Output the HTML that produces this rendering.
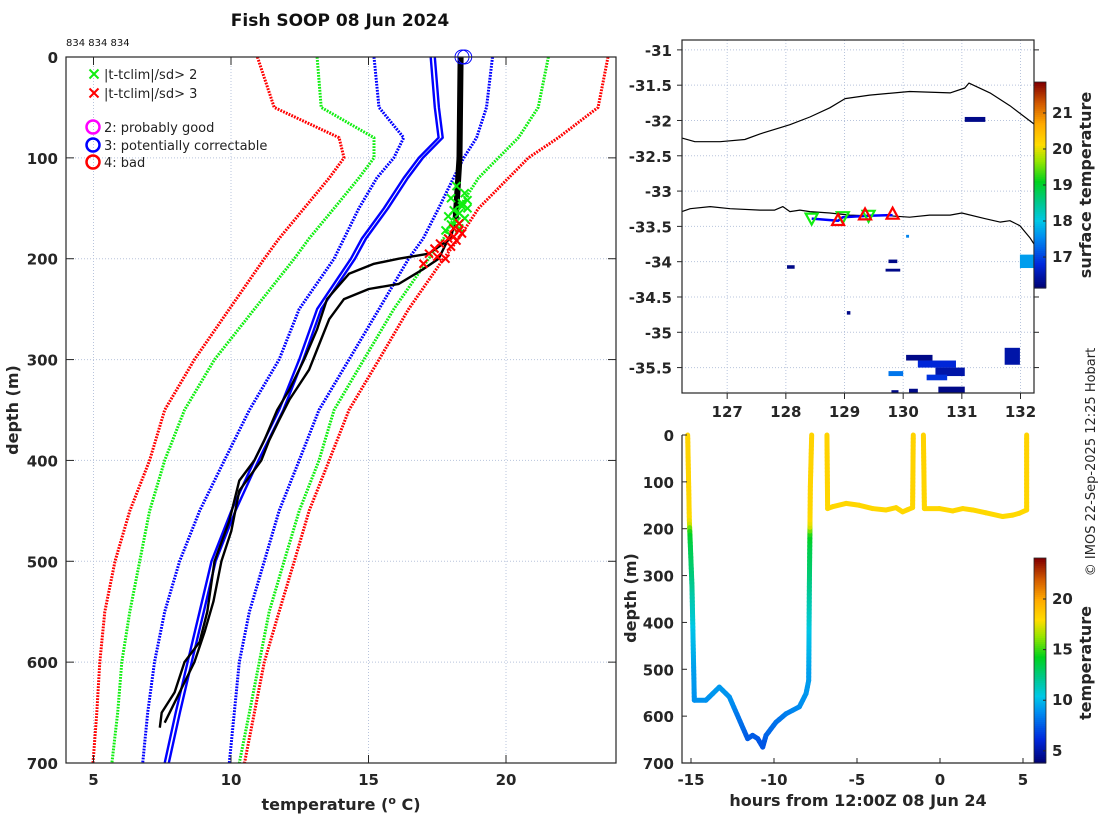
<!DOCTYPE html>
<html><head><meta charset="utf-8"><style>
html,body{margin:0;padding:0;background:#fff;}
svg{display:block;font-family:"DejaVu Sans","Liberation Sans",sans-serif;}
.tk{font-size:15px;font-weight:bold;fill:#262626;}
.lb{font-size:16px;font-weight:bold;fill:#262626;}
</style></head><body>
<svg id="fig" width="1100" height="820" viewBox="0 0 1100 820" xmlns="http://www.w3.org/2000/svg">
<rect width="1100" height="820" fill="#fff"/>
<text x="340" y="26" text-anchor="middle" style="font-size:17px;font-weight:bold;fill:#111">Fish SOOP 08 Jun 2024</text>
<text x="66" y="46" style="font-size:10px;fill:#111">834 834 834</text>
<text transform="translate(1095,462) rotate(-90)" text-anchor="middle" style="font-size:13px;fill:#262626">© IMOS 22-Sep-2025 12:25 Hobart</text>
<g id="left"></g>
<g id="map"></g>
<g id="tser"></g>
</svg>
<script>
// ---------- data: profile panel ----------
const climDepths=[0,50,80,100,120,150,180,200,250,300,350,400,450,500,550,600,650,700];
const climMean=[17.26,17.41,17.55,16.83,16.28,15.56,14.76,14.36,13.13,12.48,11.75,10.85,10.01,9.29,8.86,8.42,7.99,7.59];
const climMinus1=[15.2,15.38,16.28,15.92,15.3,14.65,14.11,13.75,12.48,11.75,10.67,9.76,8.86,8.13,7.59,7.22,6.97,6.79];
const climPlus1=[19.51,19.29,18.93,18.46,18.09,17.55,16.99,16.46,15.38,14.29,13.2,12.48,11.75,11.21,10.67,10.3,10.12,9.94];
const climMinus2=[13.13,13.28,15.2,15.2,14.65,13.75,12.84,12.3,10.85,9.4,8.31,7.59,7.04,6.68,6.32,6.03,5.88,5.67];
const climPlus2=[21.54,21.17,20.45,19.72,19.0,18.28,17.73,17.19,15.92,14.83,13.75,13.2,12.48,11.93,11.39,11.03,10.67,10.3];
const climMinus3=[10.96,11.57,13.93,14.11,13.57,12.66,11.75,11.21,9.94,8.67,7.59,7.04,6.32,5.78,5.41,5.23,5.12,4.98];
const climPlus3=[23.71,23.35,21.9,20.81,20.09,19.0,18.28,17.73,16.46,15.38,14.29,13.57,12.84,12.3,11.75,11.21,10.85,10.49];
const profADepth=[0,100,130,160,180,195,200,205,215,240,270,300,330,350,380,400,420,460,500,550,580,600,630,650,665];
const profATemp=[18.35,18.31,18.24,18.17,17.99,17.19,16.10,15.20,14.29,13.49,13.13,12.66,12.12,11.68,11.21,10.85,10.30,9.94,9.40,9.14,8.86,8.31,7.95,7.48,7.41];
const profBDepth=[0,100,140,170,190,200,210,225,230,240,260,290,310,340,360,380,400,430,470,500,540,570,600,630,660];
const profBTemp=[18.38,18.35,18.28,18.09,17.73,17.55,17.01,16.10,15.01,14.11,13.57,13.13,12.84,12.12,11.75,11.39,11.10,10.30,10.01,9.65,9.36,9.04,8.67,8.13,7.59];
const flag2Temp=[18.2,18.5,18.0,18.4,18.6,18.1,18.3,17.9,18.5,18.2,18.4,18.0,18.3,17.8,18.6];
const flag2Depth=[128,135,140,145,150,152,155,158,160,163,148,166,170,172,142];
const flag3Temp=[18.3,18.1,18.4,17.9,18.2,17.6,18.0,17.4,17.2,17.8,18.3,17.0,18.1,17.5];
const flag3Depth=[165,170,175,180,182,185,188,190,195,200,172,205,178,198];
const qcCircleTemp=[18.4,18.5];
const qcCircleDepth=[0,0];
// ---------- data: map ----------
const coastNLon=[126.23,126.45,126.88,127.30,127.56,128.07,128.41,128.75,129.01,129.43,130.11,130.80,131.05,131.12,131.48,131.82,132.23];
const coastNLat=[-32.25,-32.30,-32.30,-32.27,-32.19,-32.06,-31.95,-31.82,-31.69,-31.64,-31.59,-31.61,-31.54,-31.47,-31.61,-31.79,-32.05];
const coastSLon=[126.23,126.37,126.71,127.05,127.56,127.81,127.95,128.07,128.24,128.41,128.75,129.09,129.43,129.77,130.11,130.45,130.80,131.00,131.39,131.65,131.82,131.99,132.16,132.23];
const coastSLat=[-33.29,-33.25,-33.22,-33.25,-33.27,-33.27,-33.22,-33.29,-33.27,-33.29,-33.31,-33.34,-33.35,-33.35,-33.37,-33.34,-33.34,-33.31,-33.39,-33.44,-33.42,-33.49,-33.66,-33.75];
const trackLon=[128.44,128.89,128.97,129.41,129.82];
const trackLat=[-33.39,-33.42,-33.37,-33.35,-33.34];
const tri2Lon=[128.44,128.97,129.41];
const tri2Lat=[-33.39,-33.37,-33.35];
const tri3Lon=[128.89,129.35,129.82];
const tri3Lat=[-33.41,-33.33,-33.32];
const sstLon0=[131.05,128.02,129.70,129.75,129.04,130.05,130.25,130.55,130.40,131.73,130.60,130.10,129.80,131.99,129.75,130.05];
const sstLat0=[-31.95,-34.05,-34.10,-33.97,-34.70,-35.32,-35.40,-35.50,-35.60,-35.22,-35.77,-35.80,-35.82,-33.90,-35.55,-33.62];
const sstLon1=[131.40,128.15,129.95,129.90,129.10,130.50,130.90,131.05,130.75,131.99,131.05,130.25,129.92,132.23,130.00,130.10];
const sstLat1=[-32.02,-34.10,-34.14,-34.02,-34.75,-35.40,-35.50,-35.62,-35.68,-35.46,-35.86,-35.86,-35.86,-34.09,-35.62,-33.66];
const sstTemp=[16.3,16.3,16.3,16.3,16.3,16.3,16.8,16.5,16.9,16.5,16.3,16.3,16.3,17.7,17.4,17.5];
// ---------- data: depth-time ----------
const seg1Hour=[-15.2,-15.1,-14.94,-14.8,-14.1,-13.29,-12.69,-11.59,-11.29,-10.98,-10.68,-10.48,-9.88,-9.28,-8.47,-8.07,-7.91,-7.87,-7.81,-7.73];
const seg1Depth=[0,182,324,566,566,538,559,648,641,648,666,641,613,595,580,552,524,324,110,0];
const seg2Hour=[-6.81,-6.77,-6.47,-5.66,-4.86,-4.06,-3.25,-2.65,-2.25,-1.65,-1.61];
const seg2Depth=[0,157,153,146,150,157,160,155,164,155,0];
const seg3Hour=[-1.0,-0.94,-0.04,0.76,1.37,1.97,2.77,3.78,4.38,4.78,5.22,5.22];
const seg3Depth=[0,157,157,162,157,160,166,174,171,167,160,0];
const xTicksT=[5,10,15,20];
const yTicksD=[0,100,200,300,400,500,600,700];
const lonTicks=[127,128,129,130,131,132];
const latTicks=[-31,-31.5,-32,-32.5,-33,-33.5,-34,-34.5,-35,-35.5];
const hourTicks=[-15,-10,-5,0,5];
const cbMapTicks=[17,18,19,20,21];
const cbTsTicks=[5,10,15,20];

const NS="http://www.w3.org/2000/svg";
function mk(parent,tag,attrs,txt){const e=document.createElementNS(NS,tag);for(const k in attrs)e.setAttribute(k,attrs[k]);if(txt!==undefined)e.textContent=txt;parent.appendChild(e);return e;}
const CMS=[[0,0,0,110],[0.12,0,40,220],[0.25,0,140,240],[0.33,0,200,230],[0.42,0,200,140],[0.52,0,210,30],[0.62,150,230,0],[0.7,255,220,0],[0.8,255,170,0],[0.9,210,90,0],[1,130,0,0]];
function jet(t){t=Math.max(0,Math.min(1,t));for(let i=1;i<CMS.length;i++){if(t<=CMS[i][0]){const a=CMS[i-1],b=CMS[i],f=(t-a[0])/(b[0]-a[0]);
 return `rgb(${Math.round(a[1]+f*(b[1]-a[1]))},${Math.round(a[2]+f*(b[2]-a[2]))},${Math.round(a[3]+f*(b[3]-a[3]))})`;}}return 'rgb(130,0,0)';}
function interp(xs,ys,x){if(x<=xs[0])return ys[0];for(let i=1;i<xs.length;i++){if(x<=xs[i]){const f=(x-xs[i-1])/(xs[i]-xs[i-1]);return ys[i-1]+f*(ys[i]-ys[i-1]);}}return ys[ys.length-1];}
const GRID="#b8c4dc";

// ---------- left panel ----------
const L=document.getElementById('left');
const LX0=66,LX1=616,LY0=57,LY1=763;
const tX=t=>LX0+(t-4)/20*(LX1-LX0);
const dY=d=>LY0+d/700*(LY1-LY0);
let e;
for(const t of xTicksT){e=mk(L,'line',{x1:tX(t),x2:tX(t),y1:LY0,y2:LY1,stroke:GRID,'stroke-dasharray':'1,2'});
}
for(const d of yTicksD){e=mk(L,'line',{x1:LX0,x2:LX1,y1:dY(d),y2:dY(d),stroke:GRID,'stroke-dasharray':'1,2'});
}
function poly(g,xs,ys,fx,fy,attrs,name){const pts=xs.map((x,i)=>fx(x).toFixed(1)+','+fy(ys[i]).toFixed(1)).join(' ');
 const p=mk(g,'polyline',Object.assign({points:pts,fill:'none','stroke-linejoin':'round'},attrs));
 return p;}
const dot={'stroke-width':3,'stroke-dasharray':'1.8,1.2'};
poly(L,climMinus3,climDepths,tX,dY,Object.assign({stroke:'#f00'},dot),'clim-minus-3sd');
poly(L,climPlus3,climDepths,tX,dY,Object.assign({stroke:'#f00'},dot),'clim-plus-3sd');
poly(L,climMinus2,climDepths,tX,dY,Object.assign({stroke:'#1e1'},dot),'clim-minus-2sd');
poly(L,climPlus2,climDepths,tX,dY,Object.assign({stroke:'#1e1'},dot),'clim-plus-2sd');
poly(L,climMinus1,climDepths,tX,dY,Object.assign({stroke:'#00f'},dot),'clim-minus-1sd');
poly(L,climPlus1,climDepths,tX,dY,Object.assign({stroke:'#00f'},dot),'clim-plus-1sd');
poly(L,climMean,climDepths,tX,dY,{stroke:'#00f','stroke-width':2.4},'clim-mean');
poly(L,climMean.map(v=>v+0.15),climDepths,tX,dY,{stroke:'#00f','stroke-width':2.4},'clim-mean-2');
poly(L,profATemp,profADepth,tX,dY,{stroke:'#000','stroke-width':2.4},'profile-a');
poly(L,profBTemp,profBDepth,tX,dY,{stroke:'#000','stroke-width':2.4},'profile-b');
poly(L,profATemp.slice(0,4),profADepth.slice(0,4),tX,dY,{stroke:'#000','stroke-width':6},'profile-top');
function xmark(g,cx,cy,s,col,name){const p=mk(g,'path',{d:`M${cx-s},${cy-s}L${cx+s},${cy+s}M${cx-s},${cy+s}L${cx+s},${cy-s}`,stroke:col,'stroke-width':2});
 }
flag2Temp.forEach((t,i)=>xmark(L,tX(t),dY(flag2Depth[i]),4,'#1e1','flag-sd2-marker'));
flag3Temp.forEach((t,i)=>xmark(L,tX(t),dY(flag3Depth[i]),4,'#f00','flag-sd3-marker'));
qcCircleTemp.forEach((t,i)=>{e=mk(L,'circle',{cx:tX(t),cy:dY(qcCircleDepth[i]),r:7,fill:'none',stroke:'#00f','stroke-width':1});
});
e=mk(L,'rect',{x:LX0,y:LY0,width:LX1-LX0,height:LY1-LY0,fill:'none',stroke:'#262626','stroke-width':1.2});

for(const t of xTicksT){mk(L,'line',{x1:tX(t),x2:tX(t),y1:LY0,y2:LY0+8,stroke:'#262626'});mk(L,'line',{x1:tX(t),x2:tX(t),y1:LY1,y2:LY1-8,stroke:'#262626'});
e=mk(L,'text',{x:tX(t),y:LY1+22,'text-anchor':'middle',class:'tk'},String(t));
}
for(const d of yTicksD){mk(L,'line',{x1:LX0,x2:LX0+8,y1:dY(d),y2:dY(d),stroke:'#262626'});mk(L,'line',{x1:LX1,x2:LX1-8,y1:dY(d),y2:dY(d),stroke:'#262626'});
e=mk(L,'text',{x:LX0-8,y:dY(d)+6,'text-anchor':'end',class:'tk'},String(d));
}
e=mk(L,'text',{x:341,y:810,'text-anchor':'middle',class:'lb'});e.innerHTML='temperature (<tspan dy="-6" font-size="11">o</tspan><tspan dy="6"> C)</tspan>';

e=mk(L,'text',{transform:'translate(18,410) rotate(-90)','text-anchor':'middle',class:'lb'},'depth (m)');

// legend
const lg=mk(L,'g',{});
xmark(lg,94,74,4.5,'#1e1','legend-sd2-marker');xmark(lg,94,93,4.5,'#f00','legend-sd3-marker');
const legTxt=[['|t-tclim|/sd> 2',79],['|t-tclim|/sd> 3',98],['2: probably good',132],['3: potentially correctable',150],['4: bad',167]];
legTxt.forEach(([s,y])=>{e=mk(lg,'text',{x:104,y:y,style:'font-size:13px;fill:#222'},s);});
[['#f0f',127],['#00f',145],['#f00',162]].forEach(([c,y])=>{e=mk(lg,'circle',{cx:93,cy:y,r:6.5,fill:'none',stroke:c,'stroke-width':2.5});});

// ---------- map ----------
const M=document.getElementById('map');
const MX0=682,MX1=1034,MY0=40,MY1=393;
const lonX=l=>MX0+(l-126.23)/(132.23-126.23)*(MX1-MX0);
const latY=a=>MY0+(-30.86-a)/(35.86-30.86)*(MY1-MY0);
const sstMin=16.14,sstMax=21.86;
for(const l of lonTicks){e=mk(M,'line',{x1:lonX(l),x2:lonX(l),y1:MY0,y2:MY1,stroke:GRID,'stroke-dasharray':'1,2'});}
for(const a of latTicks){e=mk(M,'line',{x1:MX0,x2:MX1,y1:latY(a),y2:latY(a),stroke:GRID,'stroke-dasharray':'1,2'});}
sstTemp.forEach((t,i)=>{const x0=lonX(sstLon0[i]),x1=lonX(sstLon1[i]),y0=latY(sstLat0[i]),y1=latY(sstLat1[i]);
e=mk(M,'rect',{x:Math.min(x0,x1),y:Math.min(y0,y1),width:Math.abs(x1-x0),height:Math.abs(y1-y0),fill:jet((t-sstMin)/(sstMax-sstMin))});
});
poly(M,coastNLon,coastNLat,lonX,latY,{stroke:'#000','stroke-width':1.2},'coastline-north');
poly(M,coastSLon,coastSLat,lonX,latY,{stroke:'#000','stroke-width':1.2},'coastline-south');
poly(M,trackLon,trackLat,lonX,latY,{stroke:'#00f','stroke-width':2.5},'ship-track');
tri2Lon.forEach((l,i)=>{const x=lonX(l),y=latY(tri2Lat[i]);e=mk(M,'path',{d:`M${x-6},${y-5}L${x+6},${y-5}L${x},${y+6}Z`,fill:'none',stroke:'#1e1','stroke-width':2.2});
});
tri3Lon.forEach((l,i)=>{const x=lonX(l),y=latY(tri3Lat[i]);e=mk(M,'path',{d:`M${x-6},${y+5}L${x+6},${y+5}L${x},${y-6}Z`,fill:'none',stroke:'#f00','stroke-width':2.2});
});
e=mk(M,'rect',{x:MX0,y:MY0,width:MX1-MX0,height:MY1-MY0,fill:'none',stroke:'#262626','stroke-width':1.2});

for(const l of lonTicks){mk(M,'line',{x1:lonX(l),x2:lonX(l),y1:MY1,y2:MY1+6,stroke:'#262626'});
e=mk(M,'text',{x:lonX(l),y:MY1+24,'text-anchor':'middle',class:'tk'},String(l));}
for(const a of latTicks){mk(M,'line',{x1:MX0-5,x2:MX0,y1:latY(a),y2:latY(a),stroke:'#262626'});mk(M,'line',{x1:MX1,x2:MX1+5,y1:latY(a),y2:latY(a),stroke:'#262626'});
e=mk(M,'text',{x:MX0-10,y:latY(a)+6,'text-anchor':'end',class:'tk'},String(a));}
// map colorbar
const CB1={x:1034,w:12,y0:82,y1:288};
for(let i=0;i<100;i++){const t=1-i/100;mk(M,'rect',{x:CB1.x,y:CB1.y0+i*(CB1.y1-CB1.y0)/100,width:CB1.w,height:(CB1.y1-CB1.y0)/100+0.6,fill:jet(t)});}
e=mk(M,'rect',{x:CB1.x,y:CB1.y0,width:CB1.w,height:CB1.y1-CB1.y0,fill:'none',stroke:'#262626','stroke-width':0.8});

const cb1Y=t=>CB1.y1-(t-sstMin)/(sstMax-sstMin)*(CB1.y1-CB1.y0);
for(const t of cbMapTicks){mk(M,'line',{x1:CB1.x+CB1.w-3,x2:CB1.x+CB1.w,y1:cb1Y(t),y2:cb1Y(t),stroke:'#262626'});
e=mk(M,'text',{x:1052,y:cb1Y(t)+5,class:'tk'},String(t));}
e=mk(M,'text',{transform:'translate(1091,185) rotate(-90)','text-anchor':'middle',class:'lb'},'surface temperature');


// ---------- depth vs time ----------
const T=document.getElementById('tser');
const TX0=682,TX1=1034,TY0=435,TY1=763;
const hX=h=>940+h*16.6;
const tdY=d=>TY0+d/700*(TY1-TY0);
const tMin=3.8,tMax=24.05;
function colorLine(hs,ds,name){const g=mk(T,'g',{});
 for(let i=1;i<hs.length;i++){const n=Math.max(1,Math.ceil(Math.abs(ds[i]-ds[i-1])/8));
  for(let k=0;k<n;k++){const f0=k/n,f1=(k+1)/n;const h0=hs[i-1]+f0*(hs[i]-hs[i-1]),h1=hs[i-1]+f1*(hs[i]-hs[i-1]);
   const d0=ds[i-1]+f0*(ds[i]-ds[i-1]),d1=ds[i-1]+f1*(ds[i]-ds[i-1]);const tm=interp(profADepth,profATemp,(d0+d1)/2);
   mk(g,'line',{x1:hX(h0),y1:tdY(d0),x2:hX(h1),y2:tdY(d1),stroke:jet((tm-tMin)/(tMax-tMin)),'stroke-width':5,'stroke-linecap':'round'});}}}
colorLine(seg1Hour,seg1Depth,'depth-trace-1');
colorLine(seg2Hour,seg2Depth,'depth-trace-2');
colorLine(seg3Hour,seg3Depth,'depth-trace-3');
e=mk(T,'path',{d:`M${TX0},${TY0}L${TX0},${TY1}L${TX1},${TY1}`,fill:'none',stroke:'#262626','stroke-width':1.2});

for(const h of hourTicks){mk(T,'line',{x1:hX(h),x2:hX(h),y1:TY1,y2:TY1-5,stroke:'#262626'});
e=mk(T,'text',{x:hX(h),y:TY1+22,'text-anchor':'middle',class:'tk'},String(h));}
for(const d of yTicksD){mk(T,'line',{x1:TX0,x2:TX0+5,y1:tdY(d),y2:tdY(d),stroke:'#262626'});
e=mk(T,'text',{x:TX0-8,y:tdY(d)+6,'text-anchor':'end',class:'tk'},String(d));}
e=mk(T,'text',{x:858,y:806,'text-anchor':'middle',class:'lb'},'hours from 12:00Z 08 Jun 24');

e=mk(T,'text',{transform:'translate(636,598) rotate(-90)','text-anchor':'middle',class:'lb'},'depth (m)');

const CB2={x:1034,w:12,y0:558,y1:763};
for(let i=0;i<100;i++){const t=1-i/100;mk(T,'rect',{x:CB2.x,y:CB2.y0+i*(CB2.y1-CB2.y0)/100,width:CB2.w,height:(CB2.y1-CB2.y0)/100+0.6,fill:jet(t)});}
e=mk(T,'rect',{x:CB2.x,y:CB2.y0,width:CB2.w,height:CB2.y1-CB2.y0,fill:'none',stroke:'#262626','stroke-width':0.8});

const cb2Y=t=>CB2.y1-(t-tMin)/(tMax-tMin)*(CB2.y1-CB2.y0);
for(const t of cbTsTicks){mk(T,'line',{x1:CB2.x+CB2.w-3,x2:CB2.x+CB2.w,y1:cb2Y(t),y2:cb2Y(t),stroke:'#262626'});
e=mk(T,'text',{x:1052,y:cb2Y(t)+5,class:'tk'},String(t));}
e=mk(T,'text',{transform:'translate(1091,663) rotate(-90)','text-anchor':'middle',class:'lb'},'temperature');

</script>
</body></html>
